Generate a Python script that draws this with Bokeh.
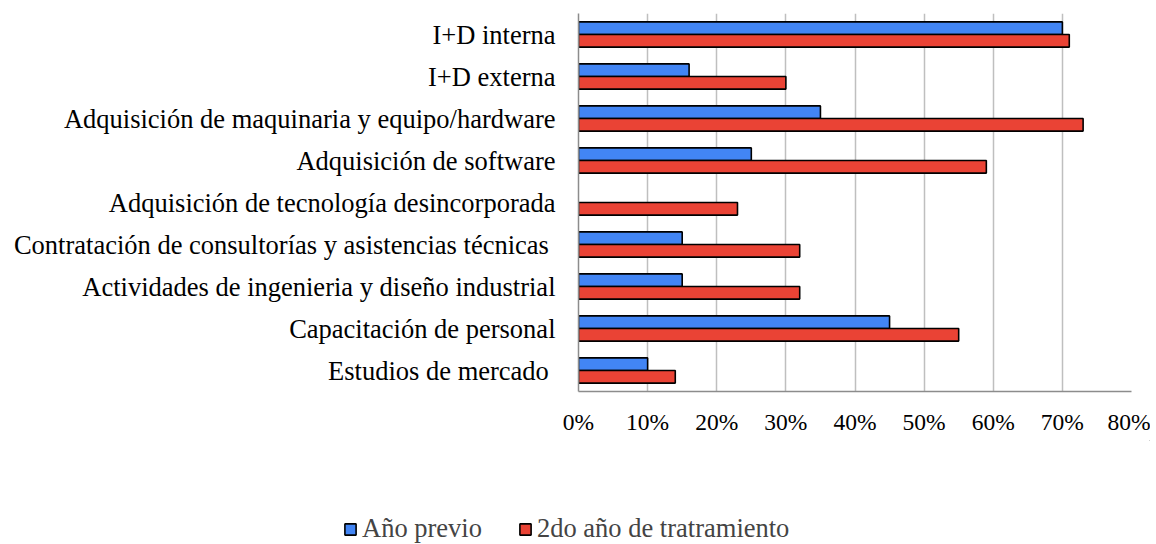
from bokeh.plotting import figure
from bokeh.models import (ColumnDataSource, FactorRange, Range1d, FixedTicker, Legend, LegendItem,
                          NumeralTickFormatter, CDSView, BooleanFilter)
from bokeh.layouts import column
from bokeh.transform import dodge
from bokeh.embed import file_html
from bokeh.resources import INLINE

categories = [
    "I+D interna",
    "I+D externa",
    "Adquisición de maquinaria y equipo/hardware",
    "Adquisición de software",
    "Adquisición de tecnología desincorporada",
    "Contratación de consultorías y asistencias técnicas ",
    "Actividades de ingenieria y diseño industrial",
    "Capacitación de personal",
    "Estudios de mercado ",
]
anio_previo = [0.70, 0.16, 0.35, 0.25, 0.0, 0.15, 0.15, 0.45, 0.10]
segundo_anio = [0.71, 0.30, 0.73, 0.59, 0.23, 0.32, 0.32, 0.55, 0.14]
x_ticks = [0, 0.1, 0.2, 0.3, 0.4, 0.5, 0.6, 0.7, 0.8]
series_names = ["Año previo", "2do año de tratramiento"]

FONT = "Liberation Serif"
BLUE = "#4285F4"
RED = "#EA4335"
W = 1150

src = ColumnDataSource(dict(cat=categories, a=anio_previo, b=segundo_anio))
view_a = CDSView(filter=BooleanFilter([v > 0 for v in anio_previo]))
view_b = CDSView(filter=BooleanFilter([v > 0 for v in segundo_anio]))

p = figure(
    width=W, height=440,
    y_range=FactorRange(factors=list(reversed(categories))),
    x_range=Range1d(0, 0.8),
    output_backend="svg", toolbar_location=None,
)
p.frame_align = False
p.min_border_left = 578
p.min_border_right = W - 1131
p.min_border_top = 13
p.min_border_bottom = 49
p.outline_line_color = None

r1 = p.hbar(y=dodge("cat", 0.15, range=p.y_range), right="a", left=0, height=0.3,
            source=src, view=view_a, fill_color=BLUE, line_color="black", line_width=1.6)
r2 = p.hbar(y=dodge("cat", -0.15, range=p.y_range), right="b", left=0, height=0.3,
            source=src, view=view_b, fill_color=RED, line_color="black", line_width=1.6)

p.xaxis.ticker = FixedTicker(ticks=x_ticks)
p.xaxis.formatter = NumeralTickFormatter(format="0%")
for ax in (p.xaxis[0], p.yaxis[0]):
    ax.major_tick_line_color = None
    ax.minor_tick_line_color = None
    ax.major_label_text_font = FONT
    ax.major_label_text_color = "black"
    ax.axis_line_color = "#8c8c8c"
    ax.axis_line_width = 1.5
p.xaxis.major_label_text_font_size = "23.5px"
p.yaxis.major_label_text_font_size = "26.5px"
p.xaxis.major_label_standoff = 11
p.yaxis.major_label_standoff = 17

p.xgrid.grid_line_color = "#bfbfbf"
p.xgrid.grid_line_width = 1.5
p.ygrid.grid_line_color = None

# legend strip below the chart (swatches drawn from a point outside the visible range)
lg = figure(
    width=W, height=104,
    x_range=Range1d(0, 1), y_range=Range1d(0, 1),
    output_backend="svg", toolbar_location=None,
)
lg.frame_align = False
lg.min_border = 0
lg.outline_line_color = None
lg.axis.visible = False
lg.grid.visible = False
d1 = lg.hbar(y=[5], right=[6], left=5, height=0.3, fill_color=BLUE, line_color="black", line_width=1.6)
d2 = lg.hbar(y=[5], right=[6], left=5, height=0.3, fill_color=RED, line_color="black", line_width=1.6)

legend = Legend(
    items=[LegendItem(label=series_names[0], renderers=[d1]),
           LegendItem(label=series_names[1], renderers=[d2])],
    orientation="horizontal",
    location=(343, 0),
    glyph_width=14, glyph_height=14,
    label_text_font=FONT, label_text_font_size="26.5px",
    label_standoff=5, spacing=36, padding=0, margin=0,
    border_line_color=None, background_fill_alpha=0,
    label_height=24,
)
lg.add_layout(legend, "center")

layout = column(p, lg, spacing=0)
open("out.html", "w").write(file_html(layout, INLINE))
